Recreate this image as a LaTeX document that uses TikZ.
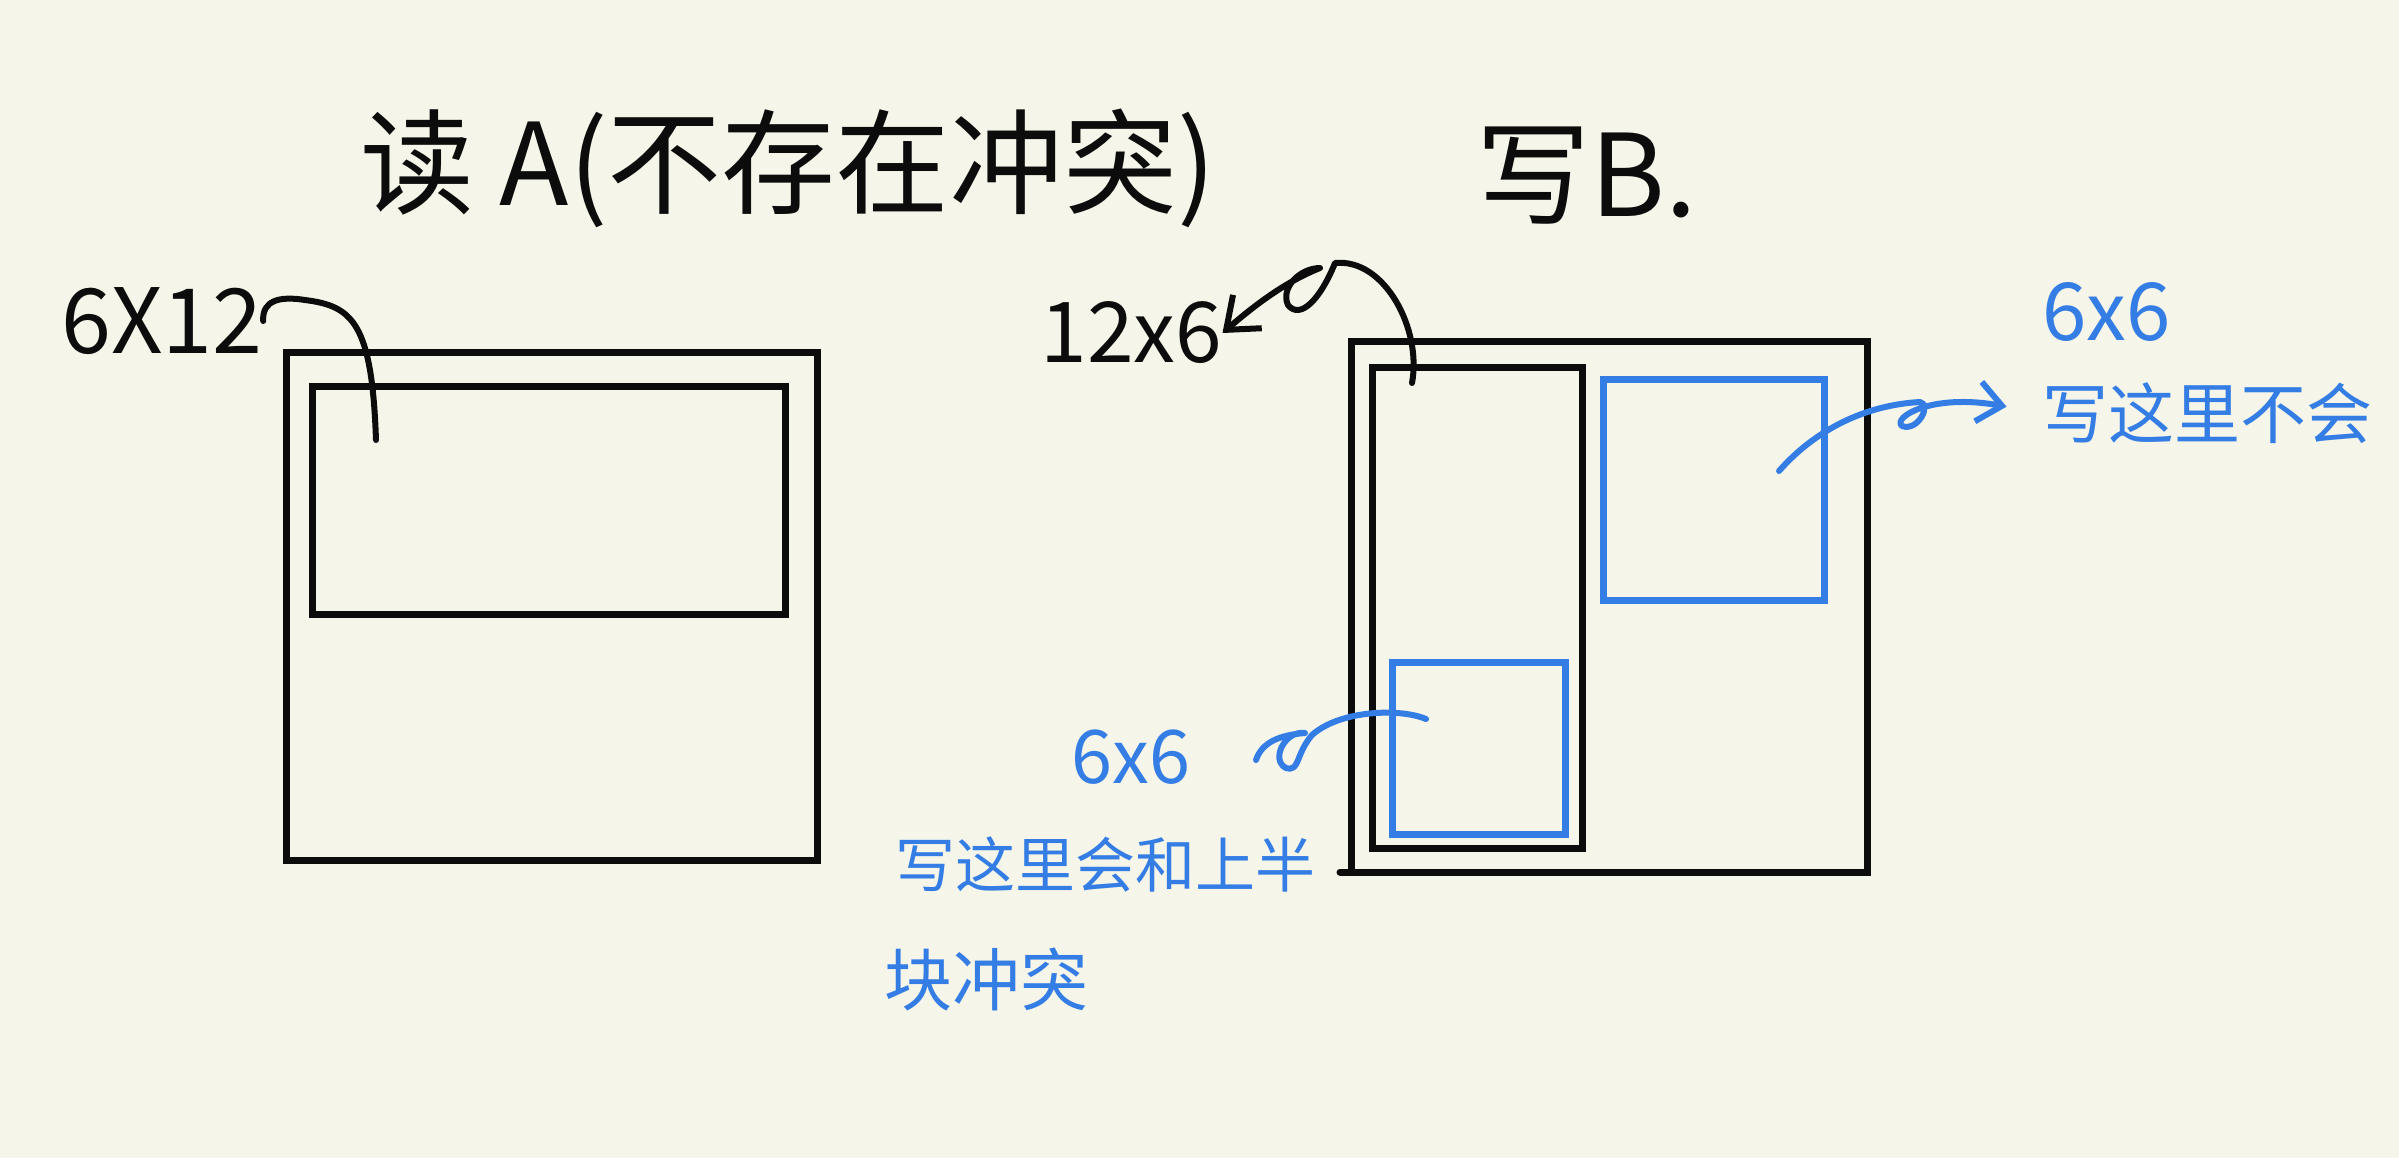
\documentclass[tikz,border=0pt]{standalone}
\usepackage{fontspec}
\newfontfamily\cjk{Noto Sans CJK SC}
\usetikzlibrary{arrows.meta}
\definecolor{paper}{RGB}{245,245,234}
\definecolor{ink}{RGB}{12,12,12}
\definecolor{pen}{RGB}{52,125,228}
\begin{document}
\begin{tikzpicture}[x=0.5pt,y=-0.5pt,
  box/.style={draw=ink,line width=3.5pt,inner sep=0pt,outer sep=0pt},
  bluebox/.style={draw=pen,line width=3.5pt,inner sep=0pt,outer sep=0pt},
  lbl/.style={inner sep=0pt,anchor=west,text=ink},
  bluelbl/.style={inner sep=0pt,anchor=west,text=pen},
  blackline/.style={draw=ink,line width=3pt,line cap=round,line join=round},
  blueline/.style={draw=pen,line width=3pt,line cap=round,line join=round}]
\fill[paper] (0,0) rectangle (2399,1158);
\useasboundingbox (0,0) rectangle (2399,1158);

% titles
\node[lbl,font=\cjk\fontsize{57}{60}\selectfont] (title) at (360,168) {读 A(不存在冲突)};
\node[lbl,font=\cjk\fontsize{57}{60}\selectfont] (titleB) at (1476,176) {写B.};

% left picture
\node[box,minimum width=265.5pt,minimum height=254pt] (Aout) at (551.5,606) {};
\node[box,minimum width=236.5pt,minimum height=114pt] (Ain) at (548.5,500) {};
\node[lbl,font=\cjk\fontsize{45}{48}\selectfont] (l612) at (61,321) {6X12};
\coordinate (e612) at (376,440);
\draw[blackline] (l612.east) .. controls (262,300) and (280,296) .. (305,300)
  .. controls (352,306) and (372,322) .. (e612);

% right picture
\node[box,minimum width=258pt,minimum height=265.5pt] (Bout) at (1609,606.5) {};
\draw[draw=ink,line width=3.5pt,line cap=round] (Bout.south west) -- ++(-11,0);
\node[box,minimum width=105pt,minimum height=240.5pt] (Bcol) at (1477,607.5) {};
\node[bluebox,minimum width=110.5pt,minimum height=110.5pt] (Bq1) at (1713.5,489.5) {};
\node[bluebox,minimum width=86.5pt,minimum height=86pt] (Bq2) at (1478.5,748) {};

\node[lbl,font=\cjk\fontsize{42}{45}\selectfont] (l126) at (1040,333) {12x6};
\coordinate (e126) at (1412,383);
\draw[blackline,-{Straight Barb[length=14pt,width=22pt]}] (e126) .. controls (1422,330) and (1385,258) .. (1335,263)
  .. controls (1320,300) and (1300,320) .. (1288,305)
  .. controls (1280,288) and (1300,268) .. (1320,268)
  .. controls (1285,282) and (1255,305) .. (l126.east);

\node[bluelbl,font=\cjk\fontsize{40}{44}\selectfont] (l66a) at (2042,312) {6x6};
\node[bluelbl,font=\cjk\fontsize{33}{36}\selectfont] (t66a) at (2042,413) {写这里不会};
\coordinate (s66a) at (1779,471);
\draw[blueline,-{Straight Barb[length=12pt,width=20pt]},shorten >=18pt] (s66a) .. controls (1815,430) and (1865,405) .. (1920,402)
  .. controls (1932,404) and (1918,432) .. (1902,426)
  .. controls (1892,418) and (1930,393) .. (t66a.west);

\node[bluelbl,font=\cjk\fontsize{37}{40}\selectfont] (l66b) at (1071,757) {6x6};
\node[bluelbl,font=\cjk\fontsize{30}{33}\selectfont] (t66b1) at (895,864) {写这里会和上半};
\node[bluelbl,font=\cjk\fontsize{34}{37}\selectfont] (t66b2) at (884,979) {块冲突};
\coordinate (s66b) at (1426,719);
\coordinate (f66b) at (1256,760);
\draw[blueline] (s66b) .. controls (1400,708) and (1340,710) .. (1312,735)
  .. controls (1295,755) and (1300,772) .. (1286,768)
  .. controls (1270,760) and (1285,730) .. (1305,733)
  .. controls (1280,735) and (1262,742) .. (f66b);
\end{tikzpicture}
\end{document}
